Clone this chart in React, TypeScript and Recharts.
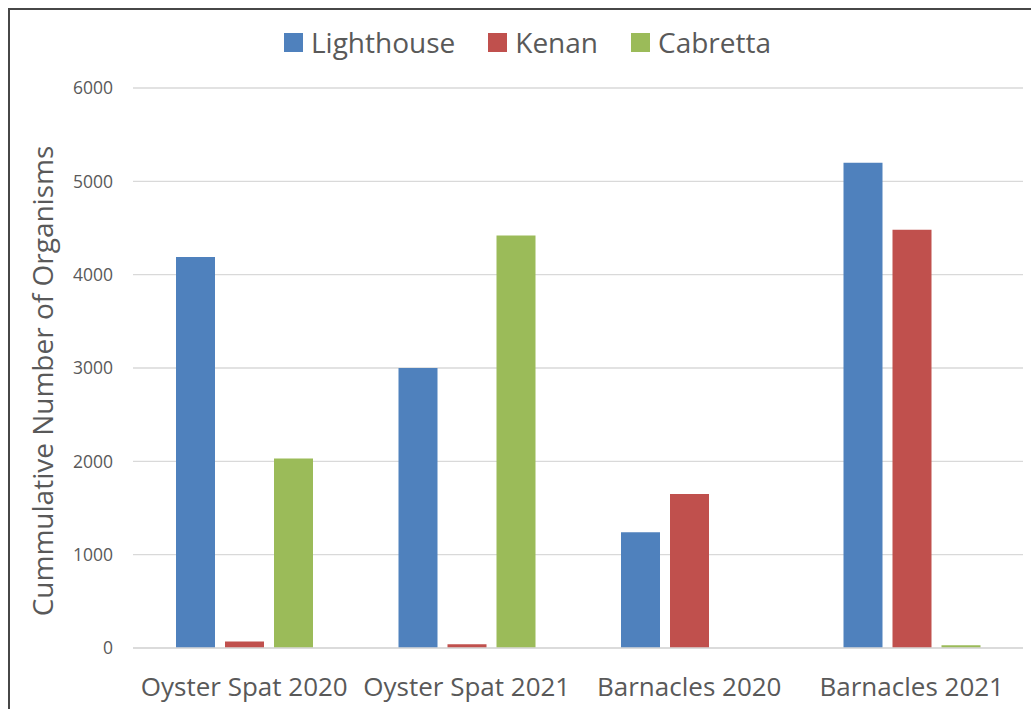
import React from 'react';
import { BarChart, Bar, XAxis, YAxis, CartesianGrid, Legend, Label } from 'recharts';

// Survey sites and counts per sampling group
const categories = ['Oyster Spat 2020', 'Oyster Spat 2021', 'Barnacles 2020', 'Barnacles 2021'];
const lighthouse = [4190, 3000, 1240, 5200];
const kenan = [70, 40, 1650, 4480];
const cabretta = [2030, 4420, 0, 30];
const yTicks = [0, 1000, 2000, 3000, 4000, 5000, 6000];

const seriesNames = ['Lighthouse', 'Kenan', 'Cabretta'];
const seriesColors = ['#4F81BD', '#C0504D', '#9BBB59'];

const data = categories.map((category, i) => ({
  category,
  Lighthouse: lighthouse[i],
  Kenan: kenan[i],
  Cabretta: cabretta[i],
}));

const FONT = '"Open Sans", sans-serif';
const TEXT = '#595959';

// Legend keeps the series order rather than the alphabetical default
const LegendContent = (props: any) => {
  const payload = [...(props.payload || [])].sort(
    (a: any, b: any) => seriesNames.indexOf(a.value) - seriesNames.indexOf(b.value)
  );
  return (
    <div
      style={{
        height: 88,
        boxSizing: 'border-box',
        paddingTop: 22,
        paddingLeft: 24,
        display: 'flex',
        justifyContent: 'center',
        fontFamily: FONT,
        fontSize: 28,
        color: TEXT,
      }}
    >
      {payload.map((entry: any, i: number) => (
        <div
          key={entry.value}
          style={{
            display: 'flex',
            alignItems: 'center',
            height: 40,
            marginRight: i < payload.length - 1 ? 33 : 0,
          }}
        >
          <span
            style={{
              display: 'inline-block',
              width: 19,
              height: 19,
              background: entry.color,
              marginRight: 8,
            }}
          />
          <span>{entry.value}</span>
        </div>
      ))}
    </div>
  );
};

const YTitle = (props: any) => {
  const vb = props.viewBox || { x: 0, y: 0, height: 0 };
  const cx = 53;
  const cy = vb.y + vb.height / 2 + 13;
  return (
    <text
      x={cx}
      y={cy}
      transform={`rotate(-90, ${cx}, ${cy})`}
      textAnchor="middle"
      fontFamily={FONT}
      fontSize={28}
      fill={TEXT}
    >
      Cummulative Number of Organisms
    </text>
  );
};

export default function App() {
  return (
    <div
      style={{
        position: 'absolute',
        left: 0,
        top: 0,
        width: 1031,
        height: 709,
        overflow: 'hidden',
        background: '#ffffff',
      }}
    >
      <div
        style={{
          position: 'absolute',
          left: 8,
          top: 8,
          width: 1200,
          height: 900,
          border: '2px solid #474747',
        }}
      />
      <div style={{ position: 'absolute', left: 0, top: 0 }}>
        <BarChart
          width={1031}
          height={709}
          data={data}
          margin={{ top: 0, right: 8, bottom: 0, left: 0 }}
          barSize={39}
          barGap={10}
        >
          <CartesianGrid vertical={false} stroke="#d9d9d9" strokeWidth={1.3} />
          <Legend
            verticalAlign="top"
            align="center"
            content={<LegendContent />}
            wrapperStyle={{ left: 0, width: 1031, top: 0 }}
          />
          <XAxis
            dataKey="category"
            height={61}
            axisLine={{ stroke: '#d9d9d9', strokeWidth: 1.3 }}
            tickLine={false}
            tickMargin={24}
            tick={{ fontFamily: FONT, fontSize: 26, fill: TEXT }}
            interval={0}
          />
          <YAxis
            width={133}
            domain={[0, 6000]}
            ticks={yTicks}
            axisLine={false}
            tickLine={false}
            tickMargin={14}
            tick={{ fontFamily: FONT, fontSize: 17.5, fill: TEXT }}
          >
            <Label content={<YTitle />} />
          </YAxis>
          {seriesNames.map((name, i) => (
            <Bar key={name} dataKey={name} fill={seriesColors[i]} isAnimationActive={false} />
          ))}
        </BarChart>
      </div>
    </div>
  );
}
